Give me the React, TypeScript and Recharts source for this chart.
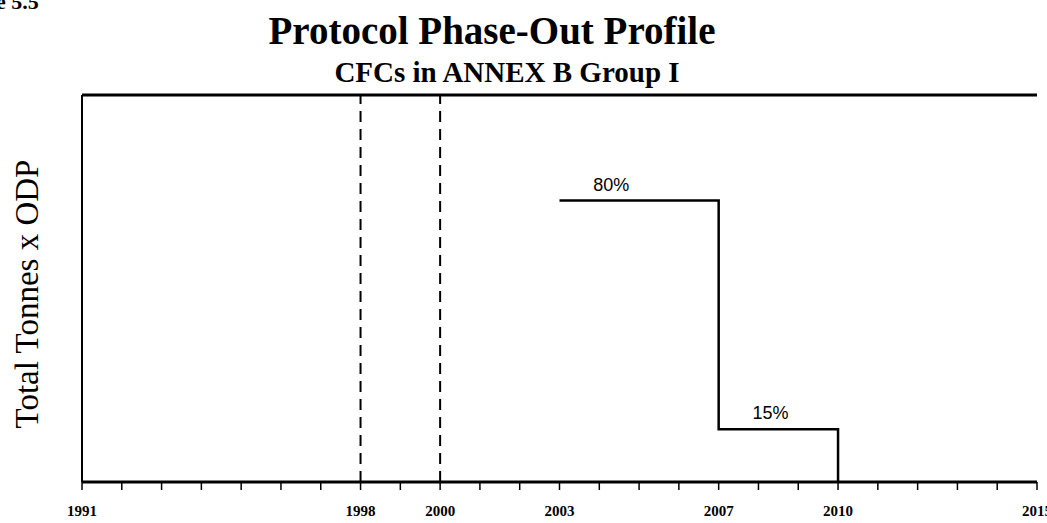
import React from "react";
import {
  LineChart,
  Line,
  XAxis,
  YAxis,
  ReferenceLine,
  ReferenceDot,
} from "recharts";

// phase-out schedule, % of base level (Total Tonnes x ODP)
const stepYears = [2003, 2007, 2007, 2010, 2010];
const stepLevels = [80, 80, 15, 15, 0];

const markerYears = [1998, 2000];

const allYears = [
  1991, 1992, 1993, 1994, 1995, 1996, 1997, 1998, 1999, 2000, 2001, 2002, 2003,
  2004, 2005, 2006, 2007, 2008, 2009, 2010, 2011, 2012, 2013, 2014, 2015,
];
const labelledYears = [1991, 1998, 2000, 2003, 2007, 2010, 2015];

const noteYears = [2004.3, 2008.3];
const noteLevels = [80, 15];
const noteTexts = ["80%", "15%"];

const data = stepYears.map((year, i) => ({ year, level: stepLevels[i] }));

const serif = "'Liberation Serif', 'DejaVu Serif', serif";

const App: React.FC = () => {
  return (
    <div
      style={{
        position: "absolute",
        left: 0,
        top: 0,
        width: 1047,
        height: 523,
        background: "#fff",
        overflow: "hidden",
      }}
    >
      <svg
        width={1047}
        height={523}
        style={{ position: "absolute", left: 0, top: 0 }}
      >
        <text x={-4} y={9} fontFamily={serif} fontWeight="bold" fontSize={22}>
          e 5.5
        </text>
        <text
          x={492}
          y={44}
          textAnchor="middle"
          fontFamily={serif}
          fontWeight="bold"
          fontSize={39}
        >
          Protocol Phase-Out Profile
        </text>
        <text
          x={507}
          y={82}
          textAnchor="middle"
          fontFamily={serif}
          fontWeight="bold"
          fontSize={29}
        >
          CFCs in ANNEX B Group I
        </text>
        <text
          transform="translate(38 294) rotate(-90)"
          textAnchor="middle"
          fontFamily={serif}
          fontSize={33}
        >
          Total Tonnes x ODP
        </text>
      </svg>
      <div style={{ position: "absolute", left: 0, top: 0 }}>
        <LineChart
          width={1047}
          height={523}
          data={data}
          margin={{ top: 95, right: 10, bottom: 0, left: 80 }}
        >
          <XAxis
            dataKey="year"
            type="number"
            domain={[1991, 2015]}
            ticks={allYears}
            interval={0}
            height={41}
            tickSize={8}
            tickMargin={15}
            axisLine={{ stroke: "#000", strokeWidth: 3 }}
            tickLine={{ stroke: "#000", strokeWidth: 1.5 }}
            tickFormatter={(v: number) =>
              labelledYears.includes(v) ? String(v) : ""
            }
            tick={{
              fill: "#000",
              fontFamily: serif,
              fontWeight: "bold",
              fontSize: 15,
            }}
          />
          <YAxis
            type="number"
            domain={[0, 110]}
            width={2}
            tick={false}
            tickLine={false}
            axisLine={{ stroke: "#000", strokeWidth: 2 }}
          />
          <ReferenceLine y={110} stroke="#000" strokeWidth={3} />
          {markerYears.map((y) => (
            <ReferenceLine
              key={y}
              x={y}
              stroke="#000"
              strokeWidth={2}
              strokeDasharray="11 7"
            />
          ))}
          <Line
            type="linear"
            dataKey="level"
            stroke="#000"
            strokeWidth={2.5}
            dot={false}
            isAnimationActive={false}
          />
          {noteYears.map((y, i) => (
            <ReferenceDot
              key={noteTexts[i]}
              x={y}
              y={noteLevels[i]}
              r={0}
              fill="none"
              stroke="none"
              label={{
                value: noteTexts[i],
                position: "top",
                offset: 10,
                fill: "#000",
                fontFamily: "'Liberation Sans', Arial, sans-serif",
                fontSize: 18,
              }}
            />
          ))}
        </LineChart>
      </div>
    </div>
  );
};

export default App;
